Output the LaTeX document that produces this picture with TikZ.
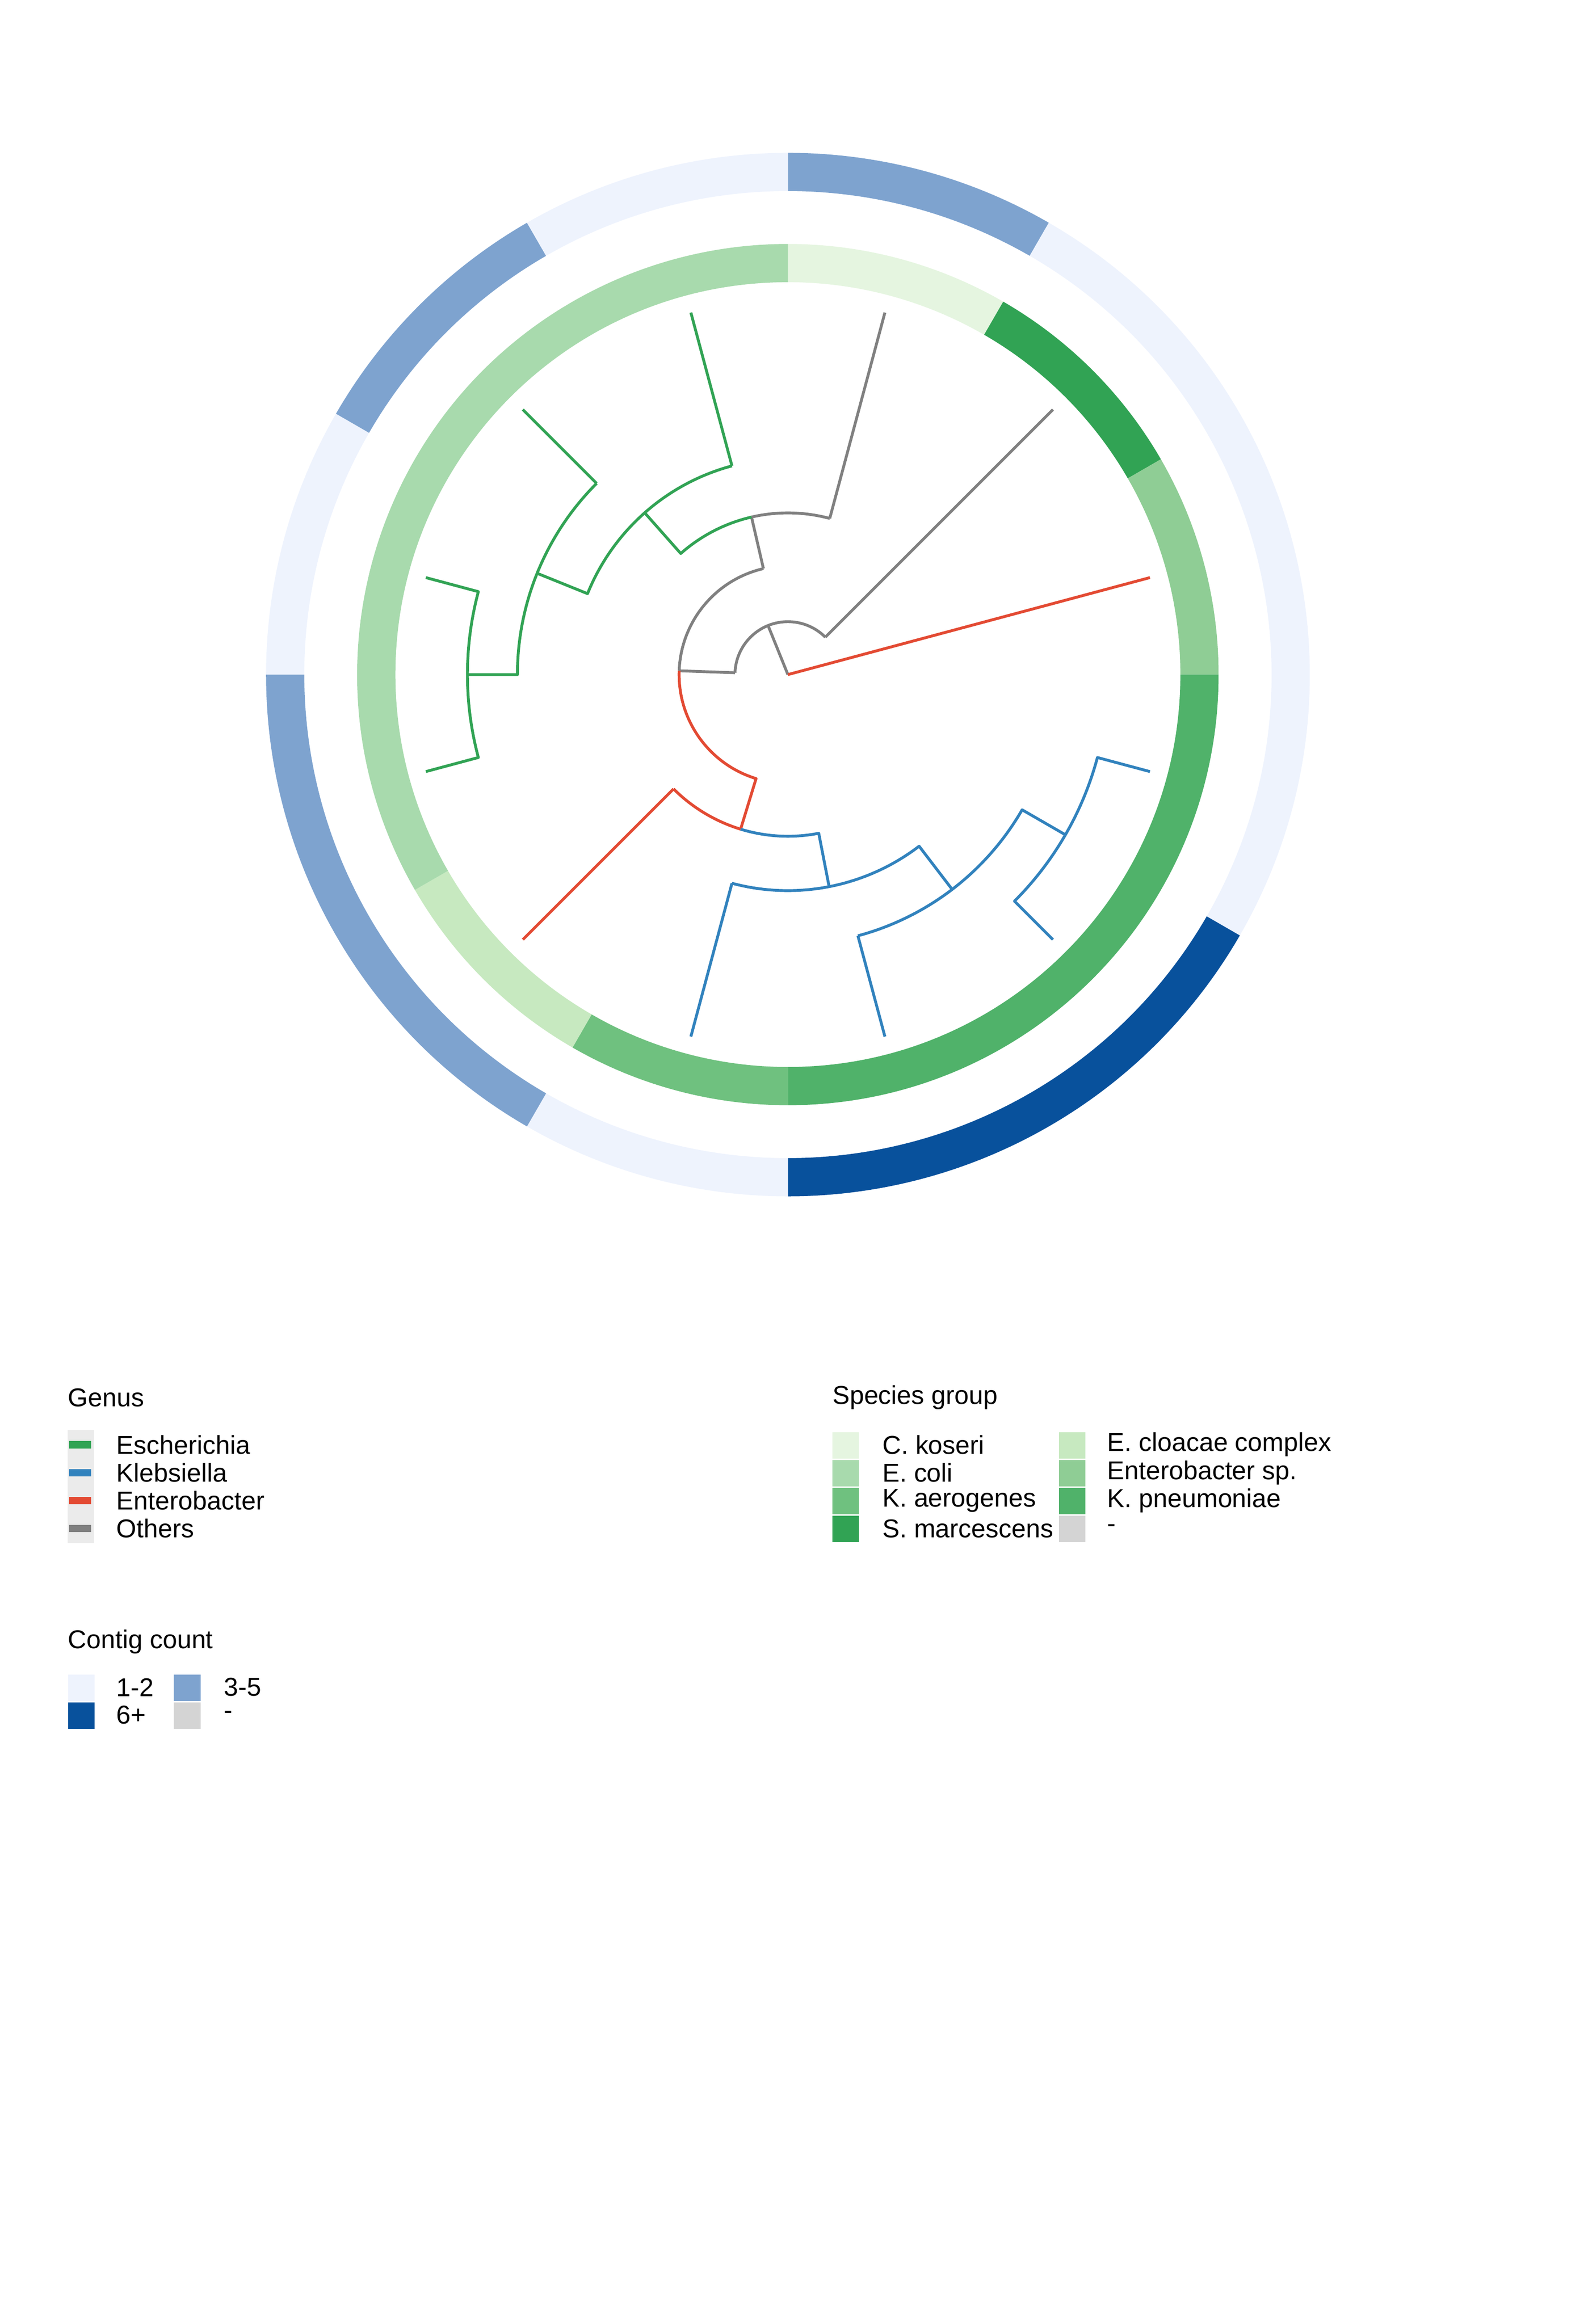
\documentclass[tikz,border=0pt]{standalone}
\usepackage{fontspec}
\setmainfont{Liberation Sans}
\usetikzlibrary{positioning}
\definecolor{gEsch}{HTML}{31A354}
\definecolor{gKleb}{HTML}{3182BD}
\definecolor{gEnt}{HTML}{E34A33}
\definecolor{gOth}{HTML}{808080}
\definecolor{sKos}{HTML}{E5F5E0}
\definecolor{sCol}{HTML}{A8DAAD}
\definecolor{sAer}{HTML}{6FC17F}
\definecolor{sMar}{HTML}{31A354}
\definecolor{sClo}{HTML}{C7E9C0}
\definecolor{sEsp}{HTML}{8FCD95}
\definecolor{sPne}{HTML}{50B26A}
\definecolor{sNa}{HTML}{D4D4D4}
\definecolor{cLow}{HTML}{EEF3FD}
\definecolor{cMid}{HTML}{7EA3CF}
\definecolor{cHigh}{HTML}{08519C}
\definecolor{keybg}{HTML}{EBEBEB}
\newcommand{\ringseg}[5]{\fill[#1] (#4:#2) arc[start angle=#4,end angle=#5,radius=#2] -- (#5:#3) arc[start angle=#5,end angle=#4,radius=#3] -- cycle;}
\begin{document}
\begin{tikzpicture}[x=0.02cm,y=-0.02cm,font=\fontsize{10pt}{12pt}\selectfont,
  branch/.style={line width=1.1pt,line join=round},
  lbl/.style={anchor=west,inner sep=0pt},
  tile/.style={minimum width=18*0.02cm,minimum height=18*0.02cm,inner sep=0pt,anchor=north west}]
      \useasboundingbox (0,0) rectangle (1080,1581.3);

      \begin{scope}[shift={(536,459)},y=0.02cm]
      %species ring
      \foreach \c/\a/\b in {sKos/60/90,sMar/30/60,sEsp/0/30,sPne/-90/0,sAer/-120/-90,sClo/-150/-120,sCol/90/210}
        {\ringseg{\c}{267}{293}{\a}{\b}}
      %contig ring
      \foreach \c/\a/\b in {cMid/60/90,cLow/-30/60,cHigh/-90/-30,cLow/-120/-90,cMid/180/240,cLow/150/180,cMid/120/150,cLow/90/120}
        {\ringseg{\c}{329}{355}{\a}{\b}}

      %internal nodes
      \coordinate (root) at (0,0);
      \coordinate (n1) at (112:36);
      \coordinate (n2) at (178:74);
      \coordinate (n3) at (103:110);
      \coordinate (n4) at (253:110);
      \coordinate (n5) at (131.5:147);
      \coordinate (n6) at (158:184);
      \coordinate (n7) at (180:218);
      \coordinate (k1) at (281:147);
      \coordinate (k2) at (307.4:184);
      \coordinate (k3) at (330:218);
      %tips
      \foreach \t in {15,45,75,105,135,165,195,225,255,285,315,345}
        \coordinate (t\t) at (\t:255);

      %others
      \draw[branch,gOth] (root) -- (n1);
      \draw[branch,gOth] (45:36) arc[start angle=45,end angle=178,radius=36];
      \draw[branch,gOth] (45:36) -- (t45);
      \draw[branch,gOth] (178:36) -- (n2);
      \draw[branch,gOth] (103:74) arc[start angle=103,end angle=178,radius=74];
      \draw[branch,gOth] (103:74) -- (n3);
      \draw[branch,gOth] (75:110) arc[start angle=75,end angle=103,radius=110];
      \draw[branch,gOth] (75:110) -- (t75);
      %enterobacter
      \draw[branch,gEnt] (root) -- (t15);
      \draw[branch,gEnt] (178:74) arc[start angle=178,end angle=253,radius=74] -- (n4);
      \draw[branch,gEnt] (225:110) arc[start angle=225,end angle=253,radius=110];
      \draw[branch,gEnt] (225:110) -- (t225);
      %escherichia
      \draw[branch,gEsch] (103:110) arc[start angle=103,end angle=131.5,radius=110] -- (n5);
      \draw[branch,gEsch] (105:147) arc[start angle=105,end angle=158,radius=147] -- (n6);
      \draw[branch,gEsch] (105:147) -- (t105);
      \draw[branch,gEsch] (135:184) arc[start angle=135,end angle=180,radius=184] -- (n7);
      \draw[branch,gEsch] (135:184) -- (t135);
      \draw[branch,gEsch] (t165) -- (165:218) arc[start angle=165,end angle=195,radius=218] -- (t195);
      %klebsiella
      \draw[branch,gKleb] (253:110) arc[start angle=253,end angle=281,radius=110] -- (k1);
      \draw[branch,gKleb] (255:147) arc[start angle=255,end angle=307.4,radius=147] -- (k2);
      \draw[branch,gKleb] (255:147) -- (t255);
      \draw[branch,gKleb] (285:184) arc[start angle=285,end angle=330,radius=184] -- (k3);
      \draw[branch,gKleb] (285:184) -- (t285);
      \draw[branch,gKleb] (t315) -- (315:218) arc[start angle=315,end angle=345,radius=218] -- (t345);
      \end{scope}

      %genus legend
      \node[lbl] (genusT) at (46,951) {Genus};
      \fill[keybg] (46,973) rectangle (64,1050);
      \foreach \c/\txt [count=\i from 0] in {gEsch/Escherichia,gKleb/Klebsiella,gEnt/Enterobacter,gOth/Others}{
        \fill[\c] (47,980.5+19*\i) rectangle (62,985.5+19*\i);
        \node[lbl] (genus\i) at (79,983+19*\i) {\txt};
      }

      %species legend
      \node[lbl] (speciesT) at (566,951) {Species group};
      \foreach \c/\txt [count=\i from 0] in {sKos/C. koseri,sCol/E. coli,sAer/K. aerogenes,sMar/S. marcescens}{
        \node[tile,fill=\c] (spa\i) at (566,974+19*\i) {};
        \node[lbl] (spaL\i) at (600,983+19*\i) {\txt};
      }
      \foreach \c/\txt [count=\i from 0] in {sClo/E. cloacae complex,sEsp/Enterobacter sp.,sPne/K. pneumoniae,sNa/-}{
        \node[tile,fill=\c] (spb\i) at (720,974+19*\i) {};
        \node[lbl] (spbL\i) at (753,983+19*\i) {\txt};
      }

      %contig legend
      \node[lbl] (contigT) at (46,1117) {Contig count};
      \node[tile,fill=cLow] (c12) at (46,1139) {};
      \node[lbl] (c12L) at (79,1148) {1-2};
      \node[tile,fill=cHigh] (c6) at (46,1158) {};
      \node[lbl] (c6L) at (79,1167) {6+};
      \node[tile,fill=cMid] (c35) at (118,1139) {};
      \node[lbl] (c35L) at (152,1148) {3-5};
      \node[tile,fill=sNa] (cna) at (118,1158) {};
      \node[lbl] (cnaL) at (152,1167) {-};

    \end{tikzpicture}
\end{document}
